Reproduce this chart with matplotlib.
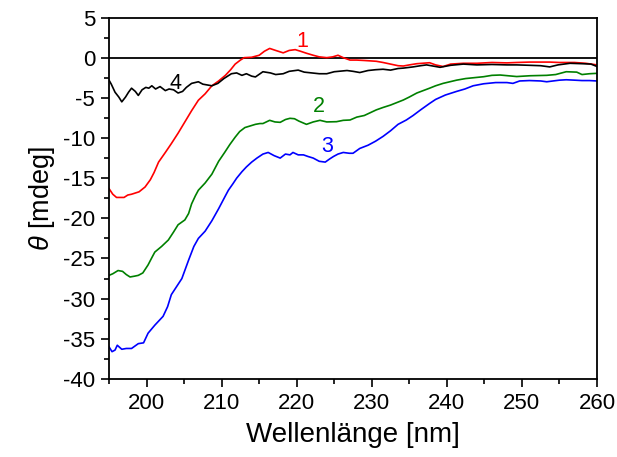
import matplotlib
matplotlib.use("Agg")
import matplotlib.pyplot as plt
from matplotlib.ticker import MultipleLocator

plt.rcParams['font.family'] = ['Liberation Sans', 'DejaVu Sans']
plt.rcParams['mathtext.fontset'] = 'custom'
plt.rcParams['mathtext.it'] = 'Liberation Sans:italic'
plt.rcParams['mathtext.rm'] = 'Liberation Sans'

# ---- data (wavelength nm, ellipticity mdeg) ----
x1 = [195, 195.5, 196, 197, 197.5, 198, 199, 199.8, 200.5, 201, 201.6, 202.5, 203.3, 204.2,
      205.1, 206, 206.9, 207.8, 208.7, 209.6, 210.5, 211.2, 211.8, 212.5, 213, 214, 215, 215.7,
      216.4, 217.2, 218.2, 219, 219.8, 220.5, 221.3, 222.2, 223, 224, 224.8, 225.5, 226.2,
      227.1, 228, 229, 230.6, 231.5, 232.5, 233.5, 234.2, 235, 236, 237.7, 238.5, 239.5,
      240.5, 242.2, 244, 246, 248, 249.3, 251, 253.7, 255, 257, 258.5, 260]
y1 = [-16.3, -17.0, -17.4, -17.4, -17.1, -17.0, -16.7, -16.1, -15.2, -14.3, -13.0, -11.8, -10.7, -9.4,
      -8.0, -6.6, -5.3, -4.5, -3.5, -2.9, -2.2, -1.5, -0.8, -0.3, 0.0, 0.05, 0.3, 0.8,
      1.15, 0.9, 0.6, 0.9, 1.0, 0.8, 0.55, 0.3, 0.1, 0.0, 0.1, 0.3, 0.0,
      -0.3, -0.3, -0.35, -0.45, -0.6, -0.8, -1.0, -1.04, -0.9, -0.75, -0.63, -0.9, -1.1,
      -0.8, -0.7, -0.7, -0.6, -0.65, -0.6, -0.55, -0.55, -0.6, -0.6, -0.7, -0.9]

x2 = [195, 195.5, 196.2, 196.8, 197.3, 197.8, 198.4, 198.9, 199.5, 200.2, 200.7, 201.1, 202,
      202.9, 203.6, 204.2, 205.1, 205.6, 206, 206.5, 206.9, 207.8, 208.7, 209.6, 210.4, 211.1,
      211.8, 212.4, 213.1, 213.8, 214.5, 215.1, 215.5, 216.4, 217.1, 217.8, 218.5, 219.1,
      219.7, 220.3, 221.3, 222.2, 223.1, 224, 225.3, 226.2, 227.1, 228, 229, 230.6, 231.5,
      232.5, 234.2, 235, 236, 237.7, 238.5, 239.5, 241.3, 242.5, 244.9, 246, 247.1, 249.3,
      251.1, 253.3, 254.5, 255.9, 257.3, 258, 259, 260]
y2 = [-27.1, -26.9, -26.5, -26.6, -27.0, -27.3, -27.2, -27.1, -26.8, -25.8, -24.9, -24.2, -23.5,
      -22.7, -21.7, -20.8, -20.2, -19.4, -18.2, -17.2, -16.5, -15.6, -14.5, -12.9, -11.8, -10.8,
      -9.9, -9.2, -8.7, -8.5, -8.3, -8.2, -8.2, -7.8, -8.0, -8.05, -7.7, -7.55,
      -7.6, -7.9, -8.3, -8.0, -7.8, -8.0, -7.97, -7.8, -7.76, -7.4, -7.2, -6.5, -6.2,
      -5.9, -5.27, -4.9, -4.4, -3.8, -3.5, -3.2, -2.8, -2.6, -2.37, -2.2, -2.16, -2.35,
      -2.25, -2.2, -2.1, -1.75, -1.8, -2.1, -2.0, -1.95]

x3 = [195, 195.4, 195.8, 196.1, 196.7, 197.3, 198, 198.6, 198.9, 199.6, 200.2, 201.1, 202.2,
      202.8, 203.3, 204, 204.7, 205.6, 206.3, 206.9, 207.8, 208.7, 209.6, 210.5, 210.9, 211.5,
      212.0, 212.7, 213.3, 214.0, 214.7, 215.5, 216.2, 217.0, 217.8, 218.5, 219.1, 219.5,
      220.2, 220.9, 221.5, 222.2, 223, 223.8, 224.4, 224.9, 225.5, 226.2, 227, 227.5, 228.4,
      229.5, 230.5, 231.5, 232.5, 233.5, 234.6, 235.5, 236.5, 237.7, 238.5, 239.8, 241.3,
      242.4, 243.5, 244.9, 246.5, 248, 248.8, 249.7, 251, 252.5, 253.3, 255, 255.9, 257, 258,
      259, 260]
y3 = [-36.0, -36.6, -36.4, -35.8, -36.3, -36.2, -36.2, -35.8, -35.6, -35.5, -34.3, -33.3, -32.2,
      -31.0, -29.5, -28.5, -27.5, -25.2, -23.5, -22.5, -21.6, -20.3, -18.8, -17.2, -16.5, -15.7,
      -15.0, -14.2, -13.6, -13.0, -12.5, -12.0, -11.8, -12.2, -12.5, -12.0, -12.1, -11.8,
      -12.1, -12.1, -12.3, -12.5, -12.9, -13.0, -12.6, -12.3, -12.0, -11.8, -11.9, -11.9, -11.3,
      -10.9, -10.4, -9.8, -9.1, -8.3, -7.76, -7.2, -6.5, -5.7, -5.2, -4.65, -4.2,
      -3.9, -3.5, -3.25, -3.1, -3.1, -3.2, -2.9, -2.85, -2.9, -3.0, -2.8, -2.75, -2.8, -2.85,
      -2.85, -2.9]

x4 = [195, 195.3, 195.8, 196.3, 196.7, 197.2, 197.6, 198, 198.5, 198.9, 199.4, 199.9, 200.3,
      200.7, 201.2, 201.8, 202.5, 203.0, 203.6, 204.2, 204.8, 205.3, 206, 206.9, 207.5, 208.7,
      209.5, 210.3, 211.3, 212, 212.7, 213.3, 214, 214.5, 215.5, 216.5, 217.2, 218.2, 219.0,
      220.2, 221, 222, 223, 224, 225, 226.7, 227.5, 228.4, 229.5, 230.5, 231.5, 232.5, 233.5,
      234.2, 235.5, 236.5, 237.3, 238.2, 239.1, 240.5, 242.2, 244, 246, 248, 249.3, 251,
      252.5, 253.7, 254.8, 256.4, 258, 259.2, 260]
y4 = [-2.8, -3.3, -4.3, -4.9, -5.5, -4.9, -4.3, -3.8, -4.2, -4.7, -4.0, -3.7, -3.8,
      -3.5, -3.9, -3.6, -4.1, -3.9, -4.0, -4.4, -4.2, -3.7, -3.2, -3.0, -3.3, -3.5,
      -3.2, -2.6, -2.0, -1.9, -2.2, -2.0, -2.3, -2.4, -1.75, -1.9, -2.1, -2.0, -1.7,
      -1.55, -1.8, -1.9, -2.0, -2.0, -1.75, -1.6, -1.7, -1.85, -1.6, -1.5, -1.44, -1.55, -1.35,
      -1.3, -1.15, -1.0, -0.9, -1.05, -1.2, -0.95, -0.8, -0.9, -0.85, -0.9, -0.9, -0.95,
      -1.0, -1.15, -0.9, -0.7, -0.75, -0.8, -1.1]

labels = ["1", "2", "3", "4"]
label_x = [220.7, 222.9, 224.1, 203.8]
label_y = [2.0, -6.1, -11.0, -3.2]
colors = ["#ff0000", "#008000", "#0000ff", "#000000"]

xticks = [200, 210, 220, 230, 240, 250, 260]
yticks = [5, 0, -5, -10, -15, -20, -25, -30, -35, -40]

fig = plt.figure(figsize=(6.17, 4.57), dpi=100)
ax = fig.add_axes([0.1767, 0.1707, 0.7909, 0.791])

series = [(x1, y1), (x2, y2), (x3, y3), (x4, y4)]
ax.axhline(0, color="black", lw=1.3, zorder=1)
for (xs, ys), c in zip(series, colors):
    ax.plot(xs, ys, color=c, lw=1.2, zorder=2)
for t, lx, ly, c in zip(labels, label_x, label_y, colors):
    ax.text(lx, ly, t, color=c, fontsize=15.5, ha="center", va="center")

ax.set_xlim(195, 260)
ax.set_ylim(-40, 5)
ax.set_xticks(xticks)
ax.set_yticks(yticks)
ax.set_yticklabels([str(v) for v in yticks])
ax.set_xticklabels([str(v) for v in xticks])
ax.xaxis.set_minor_locator(MultipleLocator(5))
ax.yaxis.set_minor_locator(MultipleLocator(2.5))
ax.tick_params(which="major", direction="out", length=6, width=1.2, labelsize=16,
               top=False, right=False, pad=4)
ax.tick_params(which="minor", direction="out", length=3.5, width=1.2, top=False, right=False)
for s in ax.spines.values():
    s.set_linewidth(1.3)

ax.set_xlabel("Wellenlänge [nm]", fontsize=20, labelpad=6)
ax.set_ylabel(r"$\theta$ [mdeg]", fontsize=19.5, labelpad=4)

fig.savefig("out.png", dpi=100)
